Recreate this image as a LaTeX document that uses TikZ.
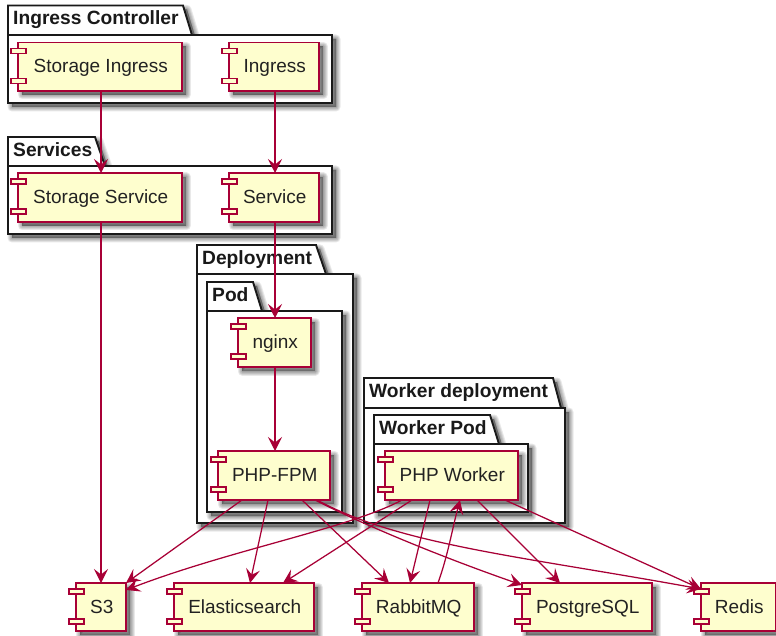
\documentclass[tikz,border=0pt]{standalone}
\usepackage{fontspec}
\setmainfont{Liberation Sans}
\usetikzlibrary{arrows.meta,calc}
\definecolor{umlred}{HTML}{A80036}
\definecolor{umlfill}{HTML}{FEFECE}
\definecolor{umltext}{HTML}{222222}
\tikzset{
  x=1pt,y=-1pt,
  comp/.style={draw=umlred,fill=umlfill,line width=1.6pt,inner sep=0pt,outer sep=0pt,text=umltext,text height=12pt,text depth=0pt,font=\fontsize{19}{21}\selectfont,anchor=north west},
  comptab/.style={draw=umlred,fill=umlfill,line width=1.5pt},
  pkg/.style={draw=black!90,fill=white,line width=1.9pt,line join=miter},
  pkglabel/.style={anchor=base west,inner sep=0pt,font=\fontsize{19.2}{21}\selectfont\bfseries,text=black!90},
  softshade/.style={fill=black,draw=black,fill opacity=.085,draw opacity=.085},
  link/.style={draw=umlred,line width=1.25pt,-{Stealth[length=14pt,width=14pt,inset=5.5pt]}},
}
% #1 path body, drawn as a soft shadow shifted down and right
\newcommand{\softshadow}[1]{%
  \foreach \w in {9,7,5,3,1}{\path[softshade,line width=\w pt,line join=round,shift={(4,4)}] #1;}%
}
% #1 name #2 x1 #3 y1 #4 x2 #5 y2 #6 text
\newcommand{\comp}[6]{%
  \softshadow{(#2,#3) rectangle (#4,#5)}%
  \node[comp,minimum width=#4pt-#2pt,minimum height=#5pt-#3pt] (#1) at (#2,#3) {\hspace*{1.5pt}#6};%
  \draw[comptab] ([xshift=-7pt,yshift=-6pt]#1.north west) rectangle ([xshift=8pt,yshift=-11pt]#1.north west);%
  \draw[comptab] ([xshift=-7pt,yshift=-36pt]#1.north west) rectangle ([xshift=8pt,yshift=-41pt]#1.north west);%
}
% #1 name #2 x1 #3 top #4 tab top right #5 tab bottom right #6 tab y #7 x2 #8 y2 #9 text
\newcommand{\pkgbox}[9]{%
  \softshadow{(#2,#3) -- (#4,#3) -- (#5,#6) -- (#7,#6) -- (#7,#8) -- (#2,#8) -- cycle}%
  \draw[pkg] (#2,#3) -- (#4,#3) -- (#5,#6) -- (#7,#6) -- (#7,#8) -- (#2,#8) -- cycle;%
  \draw[pkg] (#2,#6) -- (#5,#6);%
  \node[pkglabel] (#1) at (#2+5,#3+19.5) {#9};%
}
\begin{document}
\begin{tikzpicture}
\useasboundingbox (0,0) rectangle (776,636);
\fill[white] (0,0) rectangle (776,636);

\pkgbox{pic}{8}{5.5}{183}{192}{35}{332}{103}{Ingress Controller}
\pkgbox{psv}{8}{137}{95}{105}{166}{332}{234}{Services}
\pkgbox{pdp}{197}{245}{316}{326}{274}{353}{523}{Deployment}
\pkgbox{ppd}{207}{282}{253}{262}{311}{342}{512}{Pod}
\pkgbox{pwd}{364}{378}{553}{561}{408}{565}{523}{Worker deployment}
\pkgbox{pwp}{374}{415}{490}{499}{444}{528}{512}{Worker Pod}

\comp{si}{18}{42.5}{182}{91}{Storage Ingress}
\comp{ing}{229}{42.5}{319}{91}{Ingress}
\comp{ss}{18}{173}{182}{222}{Storage Service}
\comp{svc}{229}{173}{319}{222}{Service}
\comp{ngx}{238}{318}{311}{367}{nginx}
\comp{fpm}{218}{451}{330}{500}{PHP-FPM}
\comp{wrk}{385}{451}{518}{500}{PHP Worker}
\comp{s3}{76}{583}{126}{631}{S3}
\comp{es}{174}{583}{314}{631}{Elasticsearch}
\comp{rmq}{362}{583}{474}{631}{RabbitMQ}
\comp{pg}{522}{583}{652}{631}{PostgreSQL}
\comp{red}{701}{583}{776}{631}{Redis}

\draw[link] ([xshift=83pt]si.south west) -- ([xshift=83pt]ss.north west);
\draw[link] ([xshift=46pt]ing.south west) -- ([xshift=46pt]svc.north west);
\draw[link] ([xshift=83pt]ss.south west) -- ([xshift=25pt]s3.north west);
\draw[link] ([xshift=46pt]svc.south west) -- ([xshift=37pt]ngx.north west);
\draw[link] ([xshift=37pt]ngx.south west) -- ([xshift=57pt]fpm.north west);
\draw[link] ([xshift=24pt]fpm.south west) -- (s3.north east);
\draw[link] ([xshift=50pt]fpm.south west) -- ([xshift=76pt]es.north west);
\draw[link] ([xshift=84pt]fpm.south west) -- ([xshift=27pt]rmq.north west);
\draw[link] ([xshift=97pt]fpm.south west) .. controls (370,528) and (450,560) .. ([yshift=-2pt]pg.north west);
\draw[link] ([xshift=99pt]fpm.south west) .. controls (400,545) and (520,556) .. ([yshift=-6pt]red.north west);
\draw[link] ([xshift=17pt]wrk.south west) .. controls (350,528) and (230,550) .. ([yshift=-7pt]s3.north east);
\draw[link] ([xshift=27pt]wrk.south west) -- ([xshift=109pt]es.north west);
\draw[link] ([xshift=45pt]wrk.south west) -- ([xshift=48pt]rmq.north west);
\draw[link] ([xshift=76pt]rmq.north west) .. controls (448,555) and (452,530) .. ([xshift=75pt]wrk.south west);
\draw[link] ([xshift=92pt]wrk.south west) -- ([xshift=38pt]pg.north west);
\draw[link] ([xshift=120pt]wrk.south west) -- ([yshift=-6pt]red.north west);
\end{tikzpicture}
\end{document}
